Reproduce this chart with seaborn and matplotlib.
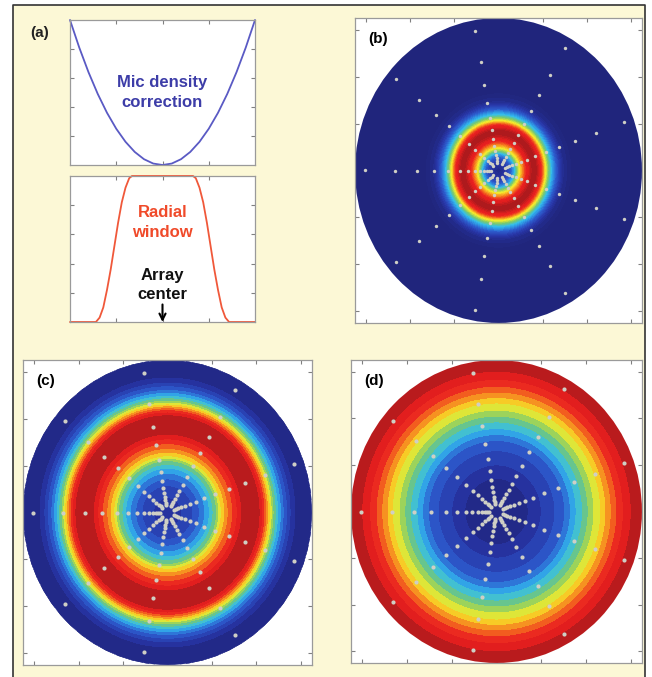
"""Spiral-array beamforming weights: radial window, density correction and three aperture maps."""

import numpy as np
import pandas as pd
import matplotlib
matplotlib.use("Agg")
import matplotlib.pyplot as plt
import matplotlib.patches as mpatches
from matplotlib.colors import LinearSegmentedColormap
import seaborn as sns

# ---- panel (a) curves ----
curve_x = [-1.0, -0.9, -0.8, -0.7, -0.6, -0.5, -0.4, -0.3, -0.2, -0.1, 0.0,
           0.1, 0.2, 0.3, 0.4, 0.5, 0.6, 0.7, 0.8, 0.9, 1.0]
density_y = [1.0, 0.81, 0.64, 0.49, 0.36, 0.25, 0.16, 0.09, 0.04, 0.01, 0.0,
             0.01, 0.04, 0.09, 0.16, 0.25, 0.36, 0.49, 0.64, 0.81, 1.0]

window_x = [-1.0, -0.72, -0.68, -0.64, -0.60, -0.56, -0.52, -0.48, -0.44, -0.40, -0.36, -0.33,
            0.33, 0.36, 0.40, 0.44, 0.48, 0.52, 0.56, 0.60, 0.64, 0.68, 0.72, 1.0]
window_y = [0.0, 0.0, 0.03, 0.10, 0.22, 0.36, 0.52, 0.68, 0.82, 0.92, 0.985, 1.0,
            1.0, 0.985, 0.92, 0.82, 0.68, 0.52, 0.36, 0.22, 0.10, 0.03, 0.0, 0.0]

# ---- microphone array: straight arms, same radii on each arm ----
APERTURE = 0.65  # metres
arm_angles_deg = [180, 140, 100, 60, 20, -20, -60, -100, -140]
mic_radii = [0.93, 0.72, 0.57, 0.45, 0.35, 0.27, 0.21, 0.165, 0.13, 0.10, 0.08, 0.063, 0.05]

# ---- radial weight profiles of the three maps (r / aperture -> colour value) ----
b_r = [0.0, 0.05, 0.08, 0.11, 0.13, 0.15, 0.175, 0.2, 0.23, 0.255, 0.28, 0.3, 0.32,
       0.345, 0.365, 0.39, 0.42, 0.45, 0.5, 1.0]
b_v = [0.02, 0.1, 0.2, 0.35, 0.5, 0.62, 0.75, 0.88, 0.97, 1.0, 0.92, 0.82, 0.65,
       0.5, 0.38, 0.28, 0.15, 0.05, 0.0, 0.0]

c_r = [0.0, 0.15, 0.22, 0.28, 0.34, 0.37, 0.42, 0.47, 0.52, 0.58, 0.63, 0.66, 0.7,
       0.73, 0.76, 0.8, 0.85, 0.9, 1.0]
c_v = [0.08, 0.15, 0.25, 0.35, 0.5, 0.62, 0.75, 0.85, 0.95, 1.0, 0.95, 0.85, 0.65,
       0.5, 0.38, 0.25, 0.12, 0.03, 0.0]

d_r = [0.0, 0.2, 0.3, 0.45, 0.5, 0.55, 0.6, 0.66, 0.72, 0.77, 0.85, 0.92, 0.95, 1.0]
d_v = [0.0, 0.05, 0.12, 0.22, 0.3, 0.38, 0.45, 0.55, 0.63, 0.72, 0.85, 0.93, 0.97, 1.0]

BEIGE = "#fcf8d6"
SPINE = "#9a9a9a"

# jet-like map with the softer tones of the printed figure
print_jet = LinearSegmentedColormap.from_list("print_jet", [
    (0.00, "#20257c"), (0.12, "#2836a8"), (0.25, "#2d5fd0"), (0.38, "#32bdef"),
    (0.50, "#78c86e"), (0.62, "#f8ee2a"), (0.75, "#f5781e"), (0.86, "#ea2020"),
    (0.92, "#e01e1e"), (1.00, "#a5191d")])

sns.set_theme(style="white")
plt.rcParams["font.family"] = ["Liberation Sans", "DejaVu Sans"]


def style_box(ax, xticks, yticks):
    """Grey frame, inward ticks on every side, no labels."""
    ax.set_xticks(xticks)
    ax.set_yticks(yticks)
    ax.tick_params(direction="in", length=3, width=0.8, color="#808080",
                   top=True, right=True, bottom=True, left=True,
                   labelbottom=False, labelleft=False)
    for sp in ax.spines.values():
        sp.set_color(SPINE)
        sp.set_linewidth(0.9)
    ax.set_xlabel("")
    ax.set_ylabel("")


def mic_table():
    rows = []
    for a in arm_angles_deg:
        t = np.deg2rad(a)
        for r in mic_radii:
            rows.append({"x": r * APERTURE * np.cos(t), "y": r * APERTURE * np.sin(t)})
    return pd.DataFrame(rows)


def aperture_map(ax, prof_r, prof_v, n_levels, label, mics, dot_size):
    """Filled contour of a radial profile over the disk, plus the microphones."""
    g = np.linspace(-APERTURE, APERTURE, 500)
    gx, gy = np.meshgrid(g, g)
    rn = np.hypot(gx, gy) / APERTURE
    z = np.interp(rn, prof_r, prof_v)
    cs = ax.contourf(gx, gy, z, levels=np.linspace(0, 1, n_levels + 1),
                     cmap=print_jet, extend="both", zorder=1)
    disk = mpatches.Circle((0, 0), APERTURE, transform=ax.transData)
    cs.set_clip_path(disk)
    sns.scatterplot(data=mics, x="x", y="y", ax=ax, s=dot_size, color="#cfcfc5",
                    linewidth=0, zorder=3, legend=False)
    ax.set_xlim(-APERTURE, APERTURE)
    ax.set_ylim(-APERTURE, APERTURE)
    ax.set_facecolor("white")
    ticks = [-0.6, -0.4, -0.2, 0.0, 0.2, 0.4, 0.6]
    style_box(ax, ticks, ticks)
    ax.text(0.045, 0.955, label, transform=ax.transAxes, ha="left", va="top",
            fontsize=11, fontweight="bold", color="black", zorder=5)


W, H = 652, 677
fig = plt.figure(figsize=(W / 100, H / 100), dpi=100)
fig.patch.set_facecolor("white")

# beige panel with dark frame on left, top and right (behind every axes)
fig.patches.append(mpatches.Rectangle((13 / W, 0), (645 - 13) / W, 1 - 5 / H,
                                      transform=fig.transFigure, facecolor=BEIGE,
                                      edgecolor="none", zorder=-10))
fig.lines.append(plt.Line2D([13 / W, 13 / W, 645 / W, 645 / W], [0, 1 - 5 / H, 1 - 5 / H, 0],
                            transform=fig.transFigure, color="#333333", lw=1.2, zorder=-5))


def frac(x0, y0, x1, y1):
    return [x0 / W, 1 - y1 / H, (x1 - x0) / W, (y1 - y0) / H]


# (a) upper: density correction
ax_top = fig.add_axes(frac(70, 20, 255, 165))
sns.lineplot(x=curve_x, y=density_y, ax=ax_top, color="#5a5ac4", lw=1.3,
             sort=False, estimator=None, clip_on=False)
ax_top.set_xlim(-1, 1)
ax_top.set_ylim(0, 1)
style_box(ax_top, [-0.5, 0, 0.5], [0.2, 0.4, 0.6, 0.8])
ax_top.text(0, 0.5, "Mic density\ncorrection", ha="center", va="center",
            fontsize=12, fontweight="bold", color="#3d3da8", linespacing=1.45)

# (a) lower: radial window
ax_win = fig.add_axes(frac(70, 176, 255, 322))
sns.lineplot(x=window_x, y=window_y, ax=ax_win, color="#f0583a", lw=1.3,
             sort=False, estimator=None, clip_on=False)
ax_win.set_xlim(-1, 1)
ax_win.set_ylim(0, 1)
style_box(ax_win, [-0.5, 0, 0.5], [0.2, 0.4, 0.6, 0.8])
ax_win.text(0, 0.68, "Radial\nwindow", ha="center", va="center",
            fontsize=12, fontweight="bold", color="#f04a2a", linespacing=1.4)
ax_win.text(0, 0.255, "Array\ncenter", ha="center", va="center",
            fontsize=12, fontweight="bold", color="#111111", linespacing=1.35)
ax_win.annotate("", xy=(0, 0), xytext=(0, 0.12),
                arrowprops=dict(arrowstyle="->", lw=1.5, color="black",
                                mutation_scale=11, shrinkA=0, shrinkB=0))
fig.text(40 / W, 1 - 33 / H, "(a)", ha="center", va="center",
         fontsize=11, fontweight="bold", color="#222222")

mics = mic_table()
aperture_map(fig.add_axes(frac(355, 18, 642, 323)), b_r, b_v, 40, "(b)", mics, 6)
aperture_map(fig.add_axes(frac(23, 360, 312, 665)), c_r, c_v, 16, "(c)", mics, 9)
aperture_map(fig.add_axes(frac(351, 360, 642, 663)), d_r, d_v, 16, "(d)", mics, 9)

fig.savefig("out.png", dpi=100, facecolor=fig.get_facecolor())
